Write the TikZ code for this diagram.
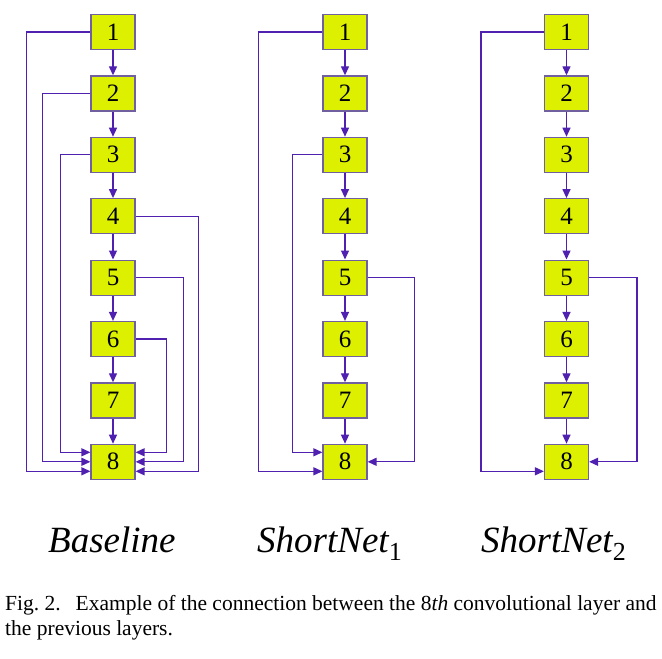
\documentclass[tikz,border=0pt]{standalone}
\usepackage{fontspec}
\setmainfont{Liberation Serif}
\usetikzlibrary{arrows.meta}
\definecolor{layerfill}{RGB}{221,240,0}
\definecolor{layerdraw}{RGB}{112,96,160}
\definecolor{linkcol}{RGB}{80,32,176}
\newcommand\netsub[1]{\raisebox{-8pt}{\fontsize{26}{26}\selectfont\upshape #1}}
\tikzset{
  layer/.style={draw=layerdraw, line width=1.2pt, fill=layerfill, minimum width=44pt, minimum height=35pt, inner sep=0pt, font=\fontsize{25}{25}\selectfont},
  link/.style={draw=linkcol, line width=1.3pt, -{Triangle[length=9pt,width=8pt]}},
  netname/.style={anchor=base west, inner sep=0pt, font=\fontsize{37}{37}\selectfont\itshape},
  caption/.style={anchor=base west, inner sep=0pt, font=\fontsize{21.5}{26}\selectfont},
}

\begin{document}
\begin{tikzpicture}[x=1pt,y=-1pt]
    \useasboundingbox (0,0) rectangle (662,659);
    \foreach \i in {1,...,8} {
        \node[layer] (b\i) at (113,{32+61.4*(\i-1)}) {\i};
        \node[layer] (s\i) at (345,{32+61.4*(\i-1)}) {\i};
        \node[layer] (t\i) at (566.5,{32+61.4*(\i-1)}) {\i};
    }
    \foreach \c in {b,s,t}
        \foreach \i [count=\j from 2] in {1,...,7}
            \draw[link] (\c\i) -- (\c\j);
    \draw[link] (b1.west) -- ++(-64,0) |- ([yshift=-9.5pt]b8.west);
    \draw[link] (b2.west) -- ++(-48,0) |- (b8.west);
    \draw[link] (b3.west) -- ++(-30,0) |- ([yshift=9.5pt]b8.west);
    \draw[link] (b4.east) -- ++(63,0) |- ([yshift=-9.5pt]b8.east);
    \draw[link] (b5.east) -- ++(48,0) |- (b8.east);
    \draw[link] (b6.east) -- ++(31,0) |- ([yshift=9.5pt]b8.east);
    \draw[link] (s1.west) -- ++(-64,0) |- ([yshift=-9.5pt]s8.west);
    \draw[link] (s3.west) -- ++(-30,0) |- ([yshift=9.5pt]s8.west);
    \draw[link] (s5.east) -- ++(47,0) |- (s8.east);
    \draw[link] (t1.west) -- ++(-63,0) |- ([yshift=-9.5pt]t8.west);
    \draw[link] (t5.east) -- ++(48,0) |- (t8.east);
    \node[netname] (base) at (48,552) {Baseline};
    \node[netname] (short1) at (257,552) {ShortNet\netsub{1}};
    \node[netname] (short2) at (481,552) {ShortNet\netsub{2}};
    \node[caption] (cap1) at (5,610) {Fig.~2.\hspace{15pt}Example of the connection between the 8\textit{th} convolutional layer and};
    \node[caption] (cap2) at (5,635) {the previous layers.};
\end{tikzpicture}
\end{document}
